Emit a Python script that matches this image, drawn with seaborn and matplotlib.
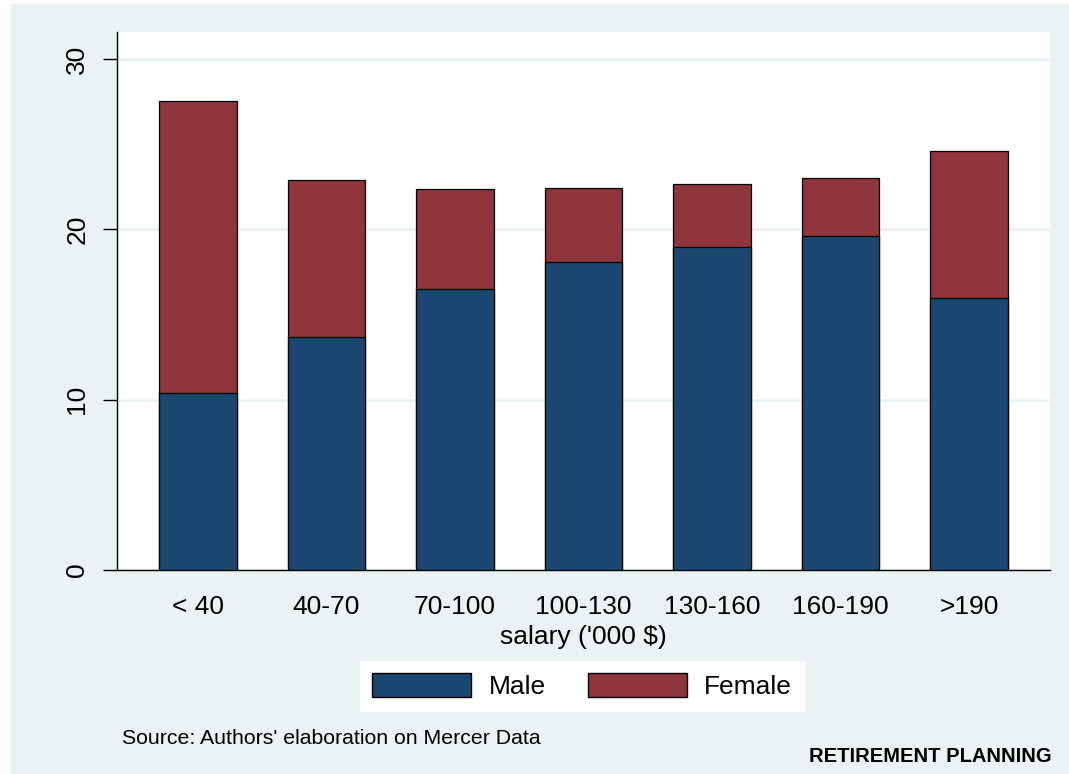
import matplotlib
matplotlib.use("Agg")
import matplotlib.pyplot as plt
import matplotlib.patches as mpatches
import pandas as pd
import seaborn as sns

# data
categories = ["< 40", "40-70", "70-100", "100-130", "130-160", "160-190", ">190"]
male = [10.4, 13.7, 16.5, 18.1, 19.0, 19.6, 16.0]
female = [17.15, 9.2, 5.9, 4.35, 3.7, 3.4, 8.6]

df = pd.DataFrame({"salary": categories, "Male": male, "Female": female})
df["total"] = df["Male"] + df["Female"]

navy = "#1A476F"
maroon = "#90353B"
bg = "#EAF2F3"

sns.set_theme(style="white")
plt.rcParams["font.family"] = ["Liberation Sans", "DejaVu Sans"]
plt.rcParams["text.color"] = "black"
plt.rcParams["axes.labelcolor"] = "black"
plt.rcParams["xtick.color"] = "black"
plt.rcParams["ytick.color"] = "black"

fig = plt.figure(figsize=(10.69, 7.74), dpi=100)
fig.patch.set_facecolor("white")
fig.patches.append(mpatches.Rectangle((11 / 1069, 0), 1 - 11 / 1069, 1 - 4 / 774,
                                      transform=fig.transFigure, color=bg, zorder=-10))

ax = fig.add_axes([117 / 1069, 1 - 570 / 774, (1050 - 117) / 1069, (570 - 32) / 774])
ax.set_facecolor("white")

# stacked bars: total first (female colour), male on top of it
sns.barplot(data=df, x="salary", y="total", color=maroon, saturation=1, width=0.6,
            edgecolor="black", linewidth=0.9, ax=ax, zorder=3)
sns.barplot(data=df, x="salary", y="Male", color=navy, saturation=1, width=0.6,
            edgecolor="black", linewidth=0.9, ax=ax, zorder=4)

ax.set_xlim(-0.63, 6.63)
ax.set_ylim(0, 31.6)
ax.set_yticks([0, 10, 20, 30])
ax.set_yticklabels(["0", "10", "20", "30"], rotation=90, va="center", fontsize=19)
ax.tick_params(axis="y", left=True, length=10, width=1, color="black", pad=10)
ax.tick_params(axis="x", bottom=False, labelsize=19, pad=12)
ax.yaxis.grid(True, color=bg, linewidth=2, zorder=0)
ax.set_axisbelow(True)

for side in ["top", "right"]:
    ax.spines[side].set_visible(False)
ax.spines["left"].set_color("black")
ax.spines["bottom"].set_color("black")
ax.spines["left"].set_linewidth(1)
ax.spines["bottom"].set_linewidth(1)

ax.set_xlabel("salary ('000 $)", fontsize=19, labelpad=4)
ax.set_ylabel("")

handles = [mpatches.Patch(facecolor=navy, edgecolor="black", label="Male"),
           mpatches.Patch(facecolor=maroon, edgecolor="black", label="Female")]
leg = fig.legend(handles=handles, loc="center", bbox_to_anchor=(582 / 1069, 1 - 686 / 774),
                 ncol=2, fontsize=19, frameon=True, fancybox=False, edgecolor="white",
                 framealpha=1, handlelength=3.75, handleheight=1.0, handletextpad=0.65,
                 columnspacing=1.6, borderpad=0.45)
leg.get_frame().set_facecolor("white")

fig.text(122 / 1069, 1 - 738 / 774, "Source: Authors' elaboration on Mercer Data",
         fontsize=15.3, va="center", ha="left")
fig.text(1052 / 1069, 1 - 757 / 774, "RETIREMENT PLANNING", fontsize=14.5, fontweight="bold",
         va="center", ha="right", family=["Liberation Sans", "DejaVu Sans"])

plt.savefig("out.png", dpi=100)
